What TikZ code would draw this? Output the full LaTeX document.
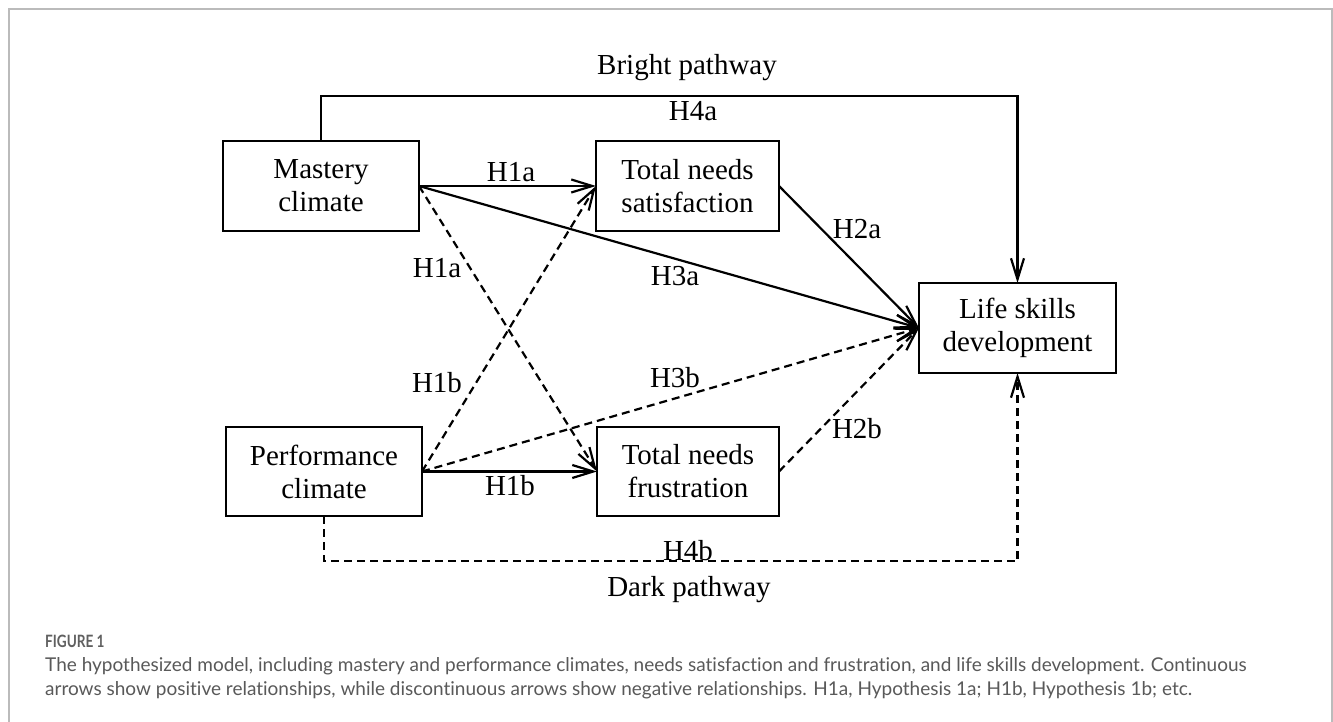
\documentclass[tikz,border=0pt]{standalone}
\usepackage{fontspec}
\setmainfont{Liberation Serif}
\newfontfamily\capfont[Ligatures={NoCommon}]{Lato}
\usetikzlibrary{arrows.meta}
\definecolor{bordergray}{HTML}{BBBBBB}
\definecolor{capgray}{HTML}{595959}
\definecolor{figgray}{HTML}{606060}
\begin{document}
\begin{tikzpicture}[x=1pt,y=-1pt,
  box/.style={draw, line width=2.5pt, inner sep=0pt, outer sep=0pt, align=center,
    font=\fontsize{29}{33}\selectfont},
  lbl/.style={font=\fontsize{29}{33}\selectfont, anchor=base, inner sep=0pt},
  arr/.style={line width=2.2pt, -{Straight Barb[length=21pt,width=13pt]}},
  dsh/.style={arr, dash pattern=on 8pt off 5pt},
  capt/.style={anchor=base west, inner sep=0pt, text=capgray, font=\capfont\fontsize{19}{24}\selectfont}
]
\useasboundingbox (0,0) rectangle (1333,722);
\fill[white] (0,0) rectangle (1333,722);
\draw[bordergray, line width=1.5pt] (9,722) -- (9,9) -- (1332,9) -- (1332,722);

% boxes
\node[box, minimum width=196pt, minimum height=90pt] (M) at (321,186) {Mastery\\climate};
\node[box, minimum width=183pt, minimum height=90pt] (S) at (687.5,186) {Total needs\\satisfaction};
\node[box, minimum width=196pt, minimum height=89pt] (P) at (324,471.5) {Performance\\climate};
\node[box, minimum width=182pt, minimum height=89pt] (F) at (688,471.5) {Total needs\\frustration};
\node[box, minimum width=197pt, minimum height=90pt] (L) at (1017.5,328) {Life skills\\development};

\coordinate (bp) at (0,96);
\coordinate (dp) at (0,561);

% connectors
\draw[arr] (M.east) -- (S.west);
\draw[dsh] (M.east) -- (F.west);
\draw[dsh] (P.east) -- (S.west);
\draw[arr] (P.east) -- (F.west);
\draw[arr] (M.east) -- (L.west);
\draw[dsh] (P.east) -- (L.west);
\draw[arr] (S.east) -- (L.west);
\draw[dsh] (F.east) -- (L.west);
\draw[arr] (M.north) -- (M.north |- bp) -| (L.north);
\draw[dsh] (P.south) -- (P.south |- dp) -| (L.south);

% labels
\node[lbl] (tbright) at (687,75) {Bright pathway};
\node[lbl] (tH4a) at (693,121) {H4a};
\node[lbl] (tH1a) at (511,182) {H1a};
\node[lbl] (tH2a) at (857,238) {H2a};
\node[lbl] (tH1ad) at (437,277) {H1a};
\node[lbl] (tH3a) at (675,285) {H3a};
\node[lbl] (tH1bd) at (437,392) {H1b};
\node[lbl] (tH3b) at (675,387) {H3b};
\node[lbl] (tH2b) at (857,438) {H2b};
\node[lbl] (tH1b) at (510,495) {H1b};
\node[lbl] (tH4b) at (688,560) {H4b};
\node[lbl] (tdark) at (689,596) {Dark pathway};

% caption
\node[anchor=base west, inner sep=0pt, text=figgray, xscale=0.8, font=\capfont\bfseries\fontsize{17}{19}\selectfont] (fig) at (45,647) {FIGURE 1};
\node[capt] (cap1) at (45,671) {The hypothesized model, including mastery and performance climates, needs satisfaction and frustration, and life skills development. Continuous};
\node[capt] (cap2) at (45,695) {arrows show positive relationships, while discontinuous arrows show negative relationships. H1a, Hypothesis 1a; H1b, Hypothesis 1b; etc.};
\end{tikzpicture}
\end{document}
